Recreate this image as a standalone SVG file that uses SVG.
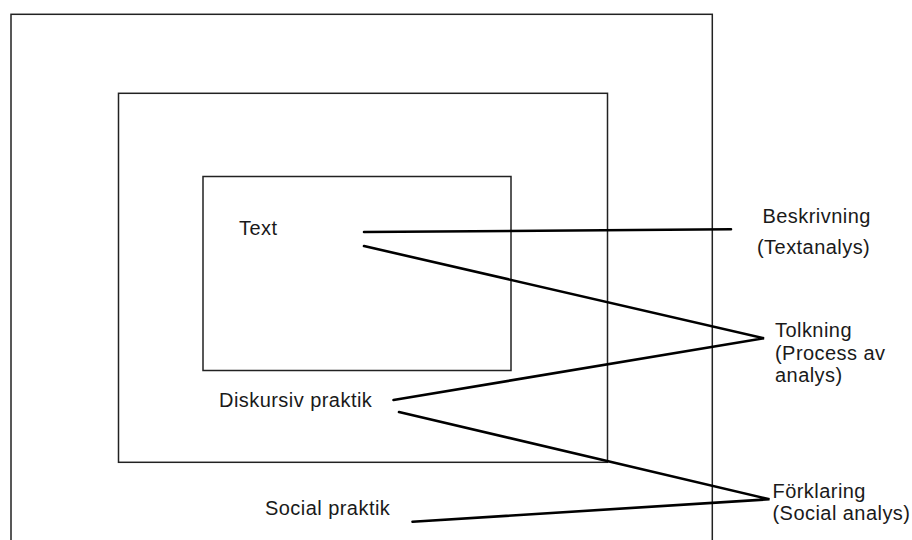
<svg xmlns="http://www.w3.org/2000/svg" width="912" height="540" viewBox="0 0 912 540">
<style>
.box{fill:none;stroke:#222;stroke-width:1.5}
.lbl{font-family:"Liberation Sans",Arial,sans-serif;font-size:20px;letter-spacing:0.45px;fill:#1a1a1a}
.con{stroke:#000;stroke-width:2.6;fill:none;stroke-linecap:round}
</style>
<rect width="912" height="540" fill="#fff"/>
<g id="social">
<rect class="box" x="11" y="14.3" width="701.3" height="560"/>
<text class="lbl" x="265" y="515">Social praktik</text>
</g>
<g id="diskursiv">
<rect class="box" x="118.5" y="93.3" width="489" height="369"/>
<text class="lbl" x="219" y="407">Diskursiv praktik</text>
</g>
<g id="text">
<rect class="box" x="203" y="176.5" width="308" height="194"/>
<text class="lbl" x="239" y="235">Text</text>
</g>
<g id="beskrivning">
<text class="lbl" x="762.5" y="223">Beskrivning</text>
<text class="lbl" x="757" y="254">(Textanalys)</text>
</g>
<g id="tolkning">
<text class="lbl" x="775" y="336.5">Tolkning</text>
<text class="lbl" x="775" y="359.5">(Process av</text>
<text class="lbl" x="775" y="382">analys)</text>
</g>
<g id="forklaring">
<text class="lbl" x="772.5" y="498">Förklaring</text>
<text class="lbl" x="772.5" y="520">(Social analys)</text>
</g>
<g id="connectors">
<line class="con" x1="364" y1="232" x2="731" y2="229.3"/>
<polyline class="con" points="364,246 764,338.3 393.5,400"/>
<polyline class="con" points="399,412 769.5,499.3 412.5,521.7"/>
</g>
</svg>
